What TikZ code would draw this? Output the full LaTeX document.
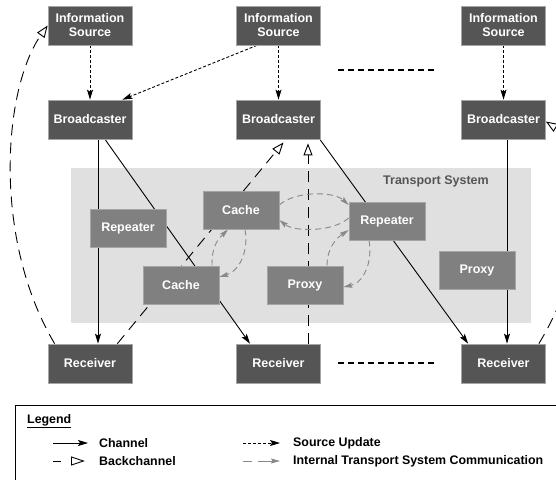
\documentclass[tikz,border=0pt]{standalone}
\usepackage{fontspec}
\setmainfont{Liberation Sans}
\usetikzlibrary{arrows.meta}
\pgfdeclarelayer{back}
\pgfdeclarelayer{mid}
\pgfsetlayers{back,mid,main}
\definecolor{darkbox}{RGB}{85,85,85}
\definecolor{midbox}{RGB}{128,128,128}
\definecolor{tsbg}{RGB}{224,224,224}
\definecolor{boxline}{RGB}{165,165,165}
\definecolor{itcgray}{RGB}{136,136,136}
\begin{document}
\begin{tikzpicture}[x=1pt,y=-1pt,
  dbox/.style={fill=darkbox, draw=boxline, line width=0.7pt, text=white,
    font=\bfseries\fontsize{12.5}{14}\selectfont, minimum width=84pt,
    minimum height=39pt, inner sep=0pt, align=center},
  mbox/.style={dbox, fill=midbox, minimum width=76pt, minimum height=38pt},
  chan/.style={line width=0.9pt, -{Stealth[length=10pt,width=6pt,inset=2pt]}},
  bchan/.style={line width=0.9pt, dash pattern=on 11pt off 7pt,
    -{Triangle[open,length=12pt,width=9pt]}},
  supd/.style={line width=0.9pt, dash pattern=on 3pt off 2pt,
    -{Stealth[length=10pt,width=6pt,inset=2pt]}},
  itc/.style={line width=0.9pt, draw=itcgray, dash pattern=on 6pt off 4pt,
    -{Stealth[length=9pt,width=5pt,inset=1.5pt,fill=itcgray]}},
  ellip/.style={line width=2pt, dash pattern=on 6pt off 4pt},
  legtext/.style={font=\bfseries\fontsize{12.4}{14}\selectfont, anchor=west, inner sep=0pt}
]
\useasboundingbox (0,0) rectangle (556,479);

% transport system background
\begin{pgfonlayer}{back}
  \fill[tsbg] (71,168) rectangle (531,323);
\end{pgfonlayer}
\node[font=\bfseries\fontsize{12.5}{14}\selectfont, text=darkbox] (tslabel) at (436,181) {Transport System};

% top row
\node[dbox] (is1) at (90,25.5) {Information\\Source};
\node[dbox] (is2) at (278.5,25.5) {Information\\Source};
\node[dbox] (is3) at (503.5,25.5) {Information\\Source};
\node[dbox] (bc1) at (90,119.5) {Broadcaster};
\node[dbox] (bc2) at (278.5,119.5) {Broadcaster};
\node[dbox] (bc3) at (503.5,119.5) {Broadcaster};
\node[dbox] (rc1) at (90,363.5) {Receiver};
\node[dbox] (rc2) at (278.5,363.5) {Receiver};
\node[dbox] (rc3) at (503.5,363.5) {Receiver};

% transport system elements
\node[mbox] (rl) at (128,228.5) {Repeater};
\node[mbox] (ct) at (241,210) {Cache};
\node[mbox] (cb) at (181,285) {Cache};
\node[mbox] (rr) at (387,221) {Repeater};
\node[mbox] (pm) at (305,285) {Proxy};
\node[mbox] (pr) at (477,270) {Proxy};

% ellipsis
\draw[ellip] (338,70) -- (434,70);
\draw[ellip] (338,363) -- (434,363);

\begin{pgfonlayer}{mid}
  % source updates
  \draw[supd] (is1) -- (bc1);
  \draw[supd] ([xshift=-21.5pt]is2.south) -- ([xshift=-10pt]bc1.north east);
  \draw[supd] (is2) -- (bc2);
  \draw[supd] (is3) -- (bc3);
  % channels
  \draw[chan] ([xshift=8pt]bc1.south) -- ([xshift=8pt]rc1.north);
  \draw[chan] ([xshift=15pt]bc1.south) -- ([xshift=-28.5pt]rc2.north);
  \draw[chan] ([xshift=-1pt]bc2.south east) -- ([xshift=7pt]rc3.north west);
  \draw[chan] ([xshift=3.5pt]bc3.south) -- ([xshift=3.5pt]rc3.north);
  % backchannels
  \draw[bchan] ([xshift=7pt]rc1.north west) .. controls +(-62,-104) and +(-45,64) .. (is1.west);
  \draw[bchan, shorten >=4pt] ([xshift=-15pt]rc1.north east) -- ([xshift=7.5pt]bc2.south);
  \draw[bchan, shorten >=4pt] ([xshift=29.5pt]rc2.north) -- ([xshift=29.5pt]bc2.south);
  \draw[bchan] ([xshift=-7pt]rc3.north east) .. controls +(55,-90) and +(44,28) .. ([yshift=-2pt]bc3.east);
  % internal transport system communication
  \draw[itc] ([yshift=5pt]ct.east) .. controls +(15,-14) and +(-15,-14) .. ([yshift=16pt]rr.west);
  \draw[itc] ([yshift=3pt]rr.west) .. controls +(-15,14) and +(15,12) .. ([yshift=-10pt]ct.east);
  \draw[itc] ([xshift=31pt]cb.north) .. controls +(0,-18) and +(-12,12) .. ([xshift=-13pt]ct.south);
  \draw[itc] ([xshift=4pt]ct.south) .. controls +(4,22) and +(20,-6) .. ([yshift=8pt]cb.east);
  \draw[itc] ([xshift=22pt]pm.north) .. controls +(0,-18) and +(-12,8) .. ([yshift=-9pt]rr.west);
  \draw[itc] ([xshift=-18pt]rr.south) .. controls +(4,22) and +(20,-4) .. ([yshift=-2pt]pm.east);
\end{pgfonlayer}

% legend
\draw[line width=0.9pt] (15,405) rectangle (620,540);
\node[font=\bfseries\fontsize{12.4}{14}\selectfont, anchor=base west, inner sep=0pt] (legtitle) at (27,423) {\underline{Legend}};
\draw[chan] (53,443) -- (88,443);
\node[legtext] (lchan) at (99,443) {Channel};
\draw[line width=0.9pt] (53,461) -- (61,461);
\draw[line width=0.9pt, -{Triangle[open,length=14pt,width=9pt]}] (71,461) -- (85,461);
\node[legtext] (lback) at (99,461) {Backchannel};
\draw[supd] (243,443) -- (280,443);
\node[legtext] (lsrc) at (293,443) {Source Update};
\draw[line width=0.9pt, itcgray] (243,461) -- (252,461);
\draw[itc, dash pattern={}] (258,461) -- (280,461);
\node[legtext] (litc) at (293,461) {Internal Transport System Communication};
\end{tikzpicture}
\end{document}
